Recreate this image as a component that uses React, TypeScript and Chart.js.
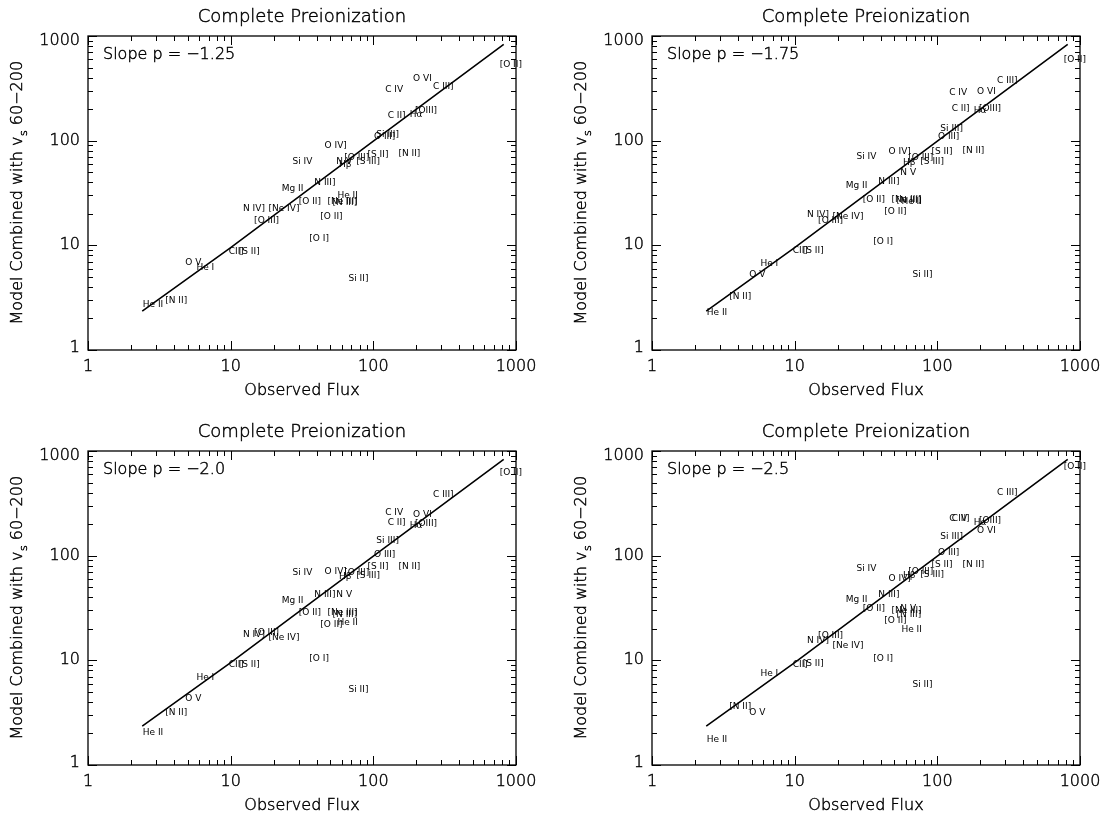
import React, { useEffect, useRef } from "react";
import { Chart, registerables } from "chart.js";

Chart.register(...registerables);

// ---- data ----
const lineLabels = [
  "[O II]", "C III]", "O VI", "C IV", "[OIII]", "C II]", "Hα", "Si III]", "O III]", "O IV]",
  "[S II]", "[N II]", "Si IV", "[O III]", "[S III]", "N V", "Hβ", "Mg II", "N III]", "He II",
  "[Ne III]", "[N III]", "[O II]", "N IV]", "[Ne IV]", "[O III]", "[O II]", "[O I]", "CII]", "[S II]",
  "O V", "He I", "Si II]", "He II", "[N II]",
];
const observedFlux = [
  768, 262, 190, 121, 196, 126, 180, 105, 101, 45.5,
  91, 150, 27.1, 62.5, 76, 55, 57.5, 22.8, 38.6, 56,
  47.7, 51.8, 30, 12.2, 18.4, 14.6, 42.5, 35.6, 9.7, 11.4,
  4.8, 5.75, 67, 2.42, 3.48,
];
const modelSlope125 = [
  505, 315, 370, 293, 185, 166, 169, 109, 104, 85,
  69.5, 71, 59.3, 65.6, 60, 60, 56, 33.2, 37.5, 28.6,
  24.8, 24.4, 24.8, 21.3, 21.4, 16.3, 17.9, 11.1, 8.3, 8.2,
  6.5, 5.8, 4.56, 2.55, 2.8,
];
const modelSlope175 = [
  568, 358, 279, 273, 194, 192, 183, 125, 104, 75,
  74.6, 75.8, 67, 65.5, 59.8, 47, 58.6, 35.1, 38.3, 24.8,
  26.1, 25.5, 26.1, 18.8, 17.7, 16.3, 20, 10.3, 8.5, 8.5,
  4.96, 6.35, 4.96, 2.16, 3.06,
];
const modelSlope200 = [
  590, 366, 233, 245, 192, 196, 183, 131, 98, 66.4,
  74, 74, 65.4, 65.4, 60.8, 40.6, 59.6, 35, 40.1, 21.8,
  27.2, 25.8, 27.2, 16.6, 15.7, 17.5, 21, 9.87, 8.65, 8.65,
  4.1, 6.5, 4.99, 1.94, 3.01,
];
const modelSlope250 = [
  668, 380, 166, 214, 204, 214, 196, 143.6, 101.6, 57.7,
  77.5, 77.5, 71.9, 66.8, 62.2, 29.9, 60.8, 36.4, 40.1, 18.8,
  28.1, 26.1, 29.9, 14.8, 13, 16.3, 22.9, 9.93, 8.6, 8.8,
  3.01, 7.1, 5.6, 1.67, 3.41,
];
const slopeTexts = ["Slope p = −1.25", "Slope p = −1.75", "Slope p = −2.0", "Slope p = −2.5"];
const fitLineX = [2.4, 10, 100, 820];
const fitLineY = [2.35, 9.5, 99, 830];
const majorTickValues = [1, 10, 100, 1000];
const majorTickLabels = ["1", "10", "100", "1000"];
const minorTickFactors = [2, 3, 4, 5, 6, 7, 8, 9];
const panelTitle = "Complete Preionization";
const xAxisTitle = "Observed Flux";
const yAxisTitleMain = "Model Combined with v";
const yAxisTitleSub = "s";
const yAxisTitleEnd = " 60−200";

const FAM = '"DejaVu Sans", "Liberation Sans", sans-serif';
const W = 543;
const H = 404;

const allTicks: number[] = [];
majorTickValues.forEach((m, i) => {
  allTicks.push(m);
  if (i < majorTickValues.length - 1) minorTickFactors.forEach((f) => allTicks.push(m * f));
});

function darkText(ctx: CanvasRenderingContext2D, t: string, x: number, y: number) {
  ctx.fillText(t, x, y);
  ctx.strokeText(t, x, y);
}

const framePlugin = {
  id: "idlFrame",
  afterDatasetsDraw(chart: any, _args: any, opts: any) {
    const ctx = chart.ctx as CanvasRenderingContext2D;
    const { left, right, top, bottom } = chart.chartArea;
    const xs = chart.scales.x;
    const ys = chart.scales.y;
    ctx.save();
    // line labels
    const meta = chart.getDatasetMeta(1);
    ctx.fillStyle = "#000";
    ctx.font = `9px ${FAM}`;
    ctx.textAlign = "left";
    ctx.textBaseline = "alphabetic";
    meta.data.forEach((el: any, i: number) => {
      ctx.fillText(lineLabels[i], el.x, el.y);
    });
    // box
    ctx.strokeStyle = "#000";
    ctx.lineWidth = 1.3;
    ctx.strokeRect(left, top, right - left, bottom - top);
    // ticks
    ctx.lineWidth = 1;
    ctx.beginPath();
    allTicks.forEach((v) => {
      const major = majorTickValues.includes(v);
      const len = major ? 9 : 5;
      const px = Math.round(xs.getPixelForValue(v)) + 0.5;
      ctx.moveTo(px, bottom);
      ctx.lineTo(px, bottom - len);
      ctx.moveTo(px, top);
      ctx.lineTo(px, top + len);
      const py = Math.round(ys.getPixelForValue(v)) + 0.5;
      ctx.moveTo(left, py);
      ctx.lineTo(left + len, py);
      ctx.moveTo(right, py);
      ctx.lineTo(right - len, py);
    });
    ctx.stroke();

    ctx.lineWidth = 0.45;
    ctx.strokeStyle = "#000";
    const f16 = `200 16px ${FAM}`;
    // tick labels
    ctx.font = f16;
    ctx.textBaseline = "middle";
    ctx.textAlign = "center";
    majorTickValues.forEach((v, i) => {
      darkText(ctx, majorTickLabels[i], xs.getPixelForValue(v), bottom + 17);
    });
    ctx.textAlign = "right";
    majorTickValues.forEach((v, i) => {
      let py = ys.getPixelForValue(v);
      if (i === majorTickValues.length - 1) py += 5;
      if (i === 0) py -= 2;
      darkText(ctx, majorTickLabels[i], left - 8, py);
    });
    // title
    const cx = (left + right) / 2;
    ctx.textAlign = "center";
    ctx.font = `200 18px ${FAM}`;
    darkText(ctx, panelTitle, cx, 17);
    // x title
    ctx.font = f16;
    darkText(ctx, xAxisTitle, cx, 391);
    // slope text
    ctx.textAlign = "left";
    darkText(ctx, opts.slope, left + 15, top + 19);
    // y title with subscript
    ctx.translate(18, (top + bottom) / 2);
    ctx.rotate(-Math.PI / 2);
    const fSub = `200 11px ${FAM}`;
    ctx.font = f16;
    const w1 = ctx.measureText(yAxisTitleMain).width;
    const w3 = ctx.measureText(yAxisTitleEnd).width;
    ctx.font = fSub;
    const w2 = ctx.measureText(yAxisTitleSub).width;
    const start = -(w1 + w2 + w3) / 2;
    ctx.font = f16;
    darkText(ctx, yAxisTitleMain, start, 0);
    ctx.font = fSub;
    darkText(ctx, yAxisTitleSub, start + w1 + 0.5, 6);
    ctx.font = f16;
    darkText(ctx, yAxisTitleEnd, start + w1 + w2 + 0.5, 0);
    ctx.restore();
  },
};

function Panel({ model, slope, left, top }: { model: number[]; slope: string; left: number; top: number }) {
  const ref = useRef<HTMLCanvasElement | null>(null);
  useEffect(() => {
    if (!ref.current) return;
    const chart = new Chart(ref.current, {
      type: "scatter",
      data: {
        datasets: [
          {
            data: fitLineX.map((x, i) => ({ x, y: fitLineY[i] })),
            showLine: true,
            borderColor: "#000",
            borderWidth: 1.6,
            pointRadius: 0,
            fill: false,
            tension: 0,
          } as any,
          {
            data: observedFlux.map((x, i) => ({ x, y: model[i] })),
            pointRadius: 0,
            pointHoverRadius: 0,
            showLine: false,
          } as any,
        ],
      },
      options: {
        responsive: false,
        animation: false,
        devicePixelRatio: 1,
        events: [],
        layout: { padding: { left: 0, right: W - 516, top: 36, bottom: 0 } },
        plugins: {
          legend: { display: false },
          title: { display: false },
          tooltip: { enabled: false },
          idlFrame: { slope },
        } as any,
        scales: {
          x: {
            type: "logarithmic",
            min: 1,
            max: 1000,
            grid: { display: false, drawTicks: false },
            border: { display: false },
            ticks: { display: false },
            afterBuildTicks: (s: any) => {
              s.ticks = allTicks.map((v) => ({ value: v }));
            },
            afterFit: (s: any) => {
              s.height = H - 350;
            },
          },
          y: {
            type: "logarithmic",
            min: 1,
            max: 1000,
            grid: { display: false, drawTicks: false },
            border: { display: false },
            ticks: { display: false },
            afterBuildTicks: (s: any) => {
              s.ticks = allTicks.map((v) => ({ value: v }));
            },
            afterFit: (s: any) => {
              s.width = 88;
            },
          },
        } as any,
      },
      plugins: [framePlugin],
    });
    return () => chart.destroy();
  }, [model, slope]);
  return (
    <div style={{ position: "absolute", left, top, width: W, height: H }}>
      <canvas ref={ref} width={W} height={H} style={{ display: "block" }} />
    </div>
  );
}

export default function App() {
  return (
    <div
      style={{
        position: "absolute",
        left: 0,
        top: 0,
        width: 1107,
        height: 819,
        overflow: "hidden",
        background: "#fff",
      }}
    >
      <Panel model={modelSlope125} slope={slopeTexts[0]} left={0} top={0} />
      <Panel model={modelSlope175} slope={slopeTexts[1]} left={564} top={0} />
      <Panel model={modelSlope200} slope={slopeTexts[2]} left={0} top={415} />
      <Panel model={modelSlope250} slope={slopeTexts[3]} left={564} top={415} />
    </div>
  );
}
